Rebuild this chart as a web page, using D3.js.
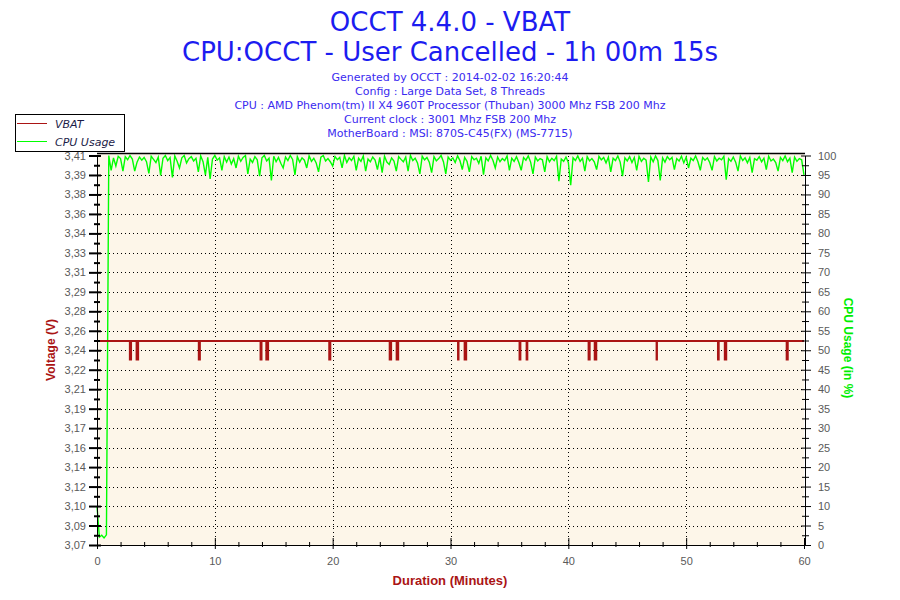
<!DOCTYPE html>
<html>
<head>
<meta charset="utf-8">
<script src="https://cdn.jsdelivr.net/npm/d3@7"></script>
<style>
  body { margin: 0; background: #ffffff; }
  svg { display: block; }
  .tick text { font-family: "Liberation Sans", Arial, sans-serif; font-size: 11px; fill: #5a5a5a; }
</style>
</head>
<body>
<svg id="chart" width="900" height="600"></svg>
<script>

// Title block
const titleLines = ["OCCT 4.4.0 - VBAT", "CPU:OCCT - User Cancelled - 1h 00m 15s"];
const infoLines = [
    "Generated by OCCT : 2014-02-02 16:20:44",
    "Config : Large Data Set, 8 Threads",
    "CPU : AMD Phenom(tm) II X4 960T Processor (Thuban) 3000 Mhz FSB 200 Mhz",
    "Current clock : 3001 Mhz FSB 200 Mhz",
    "MotherBoard : MSI: 870S-C45(FX) (MS-7715)"
];

// Axis labels
const voltLabels = ["3,07", "3,09", "3,10", "3,12", "3,14", "3,16", "3,17", "3,19", "3,21", "3,22",
    "3,24", "3,26", "3,28", "3,29", "3,31", "3,33", "3,34", "3,36", "3,38", "3,39", "3,41"];
const cpuTicks = [0, 5, 10, 15, 20, 25, 30, 35, 40, 45, 50, 55, 60, 65, 70, 75, 80, 85, 90, 95, 100];
const minuteTicks = [0, 10, 20, 30, 40, 50, 60];

// VBAT readings (step changes, minutes -> volts)
const vbatTimes = [0, 2.79, 2.89, 3.36, 3.49, 8.64, 8.73, 13.88, 13.96, 14.37, 14.52, 19.71, 19.80,
    24.84, 24.96, 25.43, 25.56, 30.64, 30.68, 31.20, 31.33, 35.86, 35.93, 36.46, 36.52,
    41.72, 41.81, 42.24, 42.37, 47.49, 47.52, 52.70, 52.76, 53.28, 53.40, 58.53, 58.62, 60.0];
const vbatVolts = [3.248, 3.232, 3.248, 3.232, 3.248, 3.232, 3.248, 3.232, 3.248, 3.232, 3.248, 3.232, 3.248,
    3.232, 3.248, 3.232, 3.248, 3.232, 3.248, 3.232, 3.248, 3.232, 3.248, 3.232, 3.248,
    3.232, 3.248, 3.232, 3.248, 3.232, 3.248, 3.232, 3.248, 3.232, 3.248, 3.232, 3.248, 3.248];

// CPU usage, one sample every 0.2 minutes
const cpuSampleStep = 0.2;
const cpuUsage = [
    10, 2, 2.5, 1.8, 2.6, 100, 96.2, 99.4, 97.3, 99.8,
    99.2, 96.0, 99.7, 98.9, 100, 99.1, 96.0, 98.3, 99.6, 98.8,
    99.5, 98.4, 95.4, 99.8, 99.0, 98.2, 99.6, 94.9, 99.3, 100,
    98.7, 99.5, 94.4, 99.9, 98.5, 96.8, 99.4, 100, 98.1, 99.2,
    99.7, 98.6, 99.3, 95.8, 99.9, 98.4, 95.0, 99.5, 94.0, 99.1,
    100, 98.8, 99.4, 96.2, 99.7, 98.3, 99.6, 97.8, 99.2, 96.8,
    99.8, 98.5, 99.5, 100, 95.3, 99.1, 98.2, 99.7, 98.9, 94.7,
    99.4, 100, 98.6, 99.3, 93.6, 99.8, 98.4, 99.5, 98.0, 96.8,
    99.6, 98.7, 100, 99.0, 95.0, 99.7, 98.3, 99.4, 98.8, 96.8,
    99.9, 98.5, 99.3, 98.1, 95.8, 99.6, 100, 98.6, 99.2, 98.4,
    97.3, 99.7, 98.9, 99.5, 96.8, 100, 98.2, 99.4, 98.7, 99.8,
    96.2, 99.3, 98.5, 99.9, 96.0, 99.1, 98.4, 99.6, 98.8, 96.4,
    99.5, 95.6, 99.8, 98.3, 97.7, 99.4, 98.6, 96.0, 99.7, 99.0,
    98.4, 99.6, 96.0, 100, 98.7, 99.3, 98.1, 95.3, 99.8, 98.9,
    99.5, 98.3, 95.6, 99.7, 98.6, 99.2, 100, 98.4, 95.3, 99.6,
    98.8, 99.4, 98.2, 99.9, 98.7, 96.4, 99.5, 98.5, 95.8, 99.7,
    98.9, 99.3, 98.0, 99.8, 95.1, 99.4, 98.6, 100, 98.8, 96.8,
    99.6, 98.4, 99.2, 98.7, 99.9, 96.2, 99.3, 98.5, 99.7, 98.2,
    96.2, 99.5, 98.8, 99.9, 98.3, 95.3, 99.6, 98.6, 99.2, 98.9,
    95.8, 99.7, 98.4, 99.3, 98.7, 99.8, 93.4, 99.1, 98.5, 99.6,
    98.2, 92.4, 99.4, 98.7, 99.9, 98.5, 99.3, 96.0, 99.7, 98.6,
    99.2, 98.4, 96.4, 99.8, 98.9, 99.5, 98.1, 99.6, 95.8, 99.3,
    98.7, 99.9, 98.3, 94.7, 99.4, 98.6, 99.7, 98.2, 99.5, 96.2,
    99.8, 98.5, 99.3, 98.8, 93.2, 99.6, 98.4, 99.9, 98.7, 93.6,
    99.4, 98.3, 99.7, 98.9, 99.5, 96.4, 99.2, 98.6, 99.8, 98.1,
    99.6, 96.8, 99.3, 98.7, 99.9, 98.4, 96.2, 99.5, 98.8, 99.4,
    98.2, 96.2, 99.7, 98.6, 99.3, 98.9, 99.8, 93.8, 99.2, 98.5,
    99.6, 98.3, 96.0, 99.9, 98.7, 99.4, 98.1, 99.5, 95.6, 99.2,
    98.8, 99.7, 98.4, 99.3, 96.4, 99.8, 98.6, 99.1, 98.2, 96.0,
    99.5, 98.7, 99.9, 98.4, 99.3, 95.6, 99.6, 98.5, 99.2, 98.9,
    95.0
];

// Dimensions
const plotLeft = 97, plotRight = 804, plotTop = 155.5, plotBottom = 545;
const svg = d3.select("#chart");

const x = d3.scaleLinear().domain([0, 60]).range([plotLeft, plotRight]);
const yVolt = d3.scaleLinear().domain([3.07, 3.41]).range([plotBottom, plotTop]);
const yCpu = d3.scaleLinear().domain([0, 100]).range([plotBottom, plotTop]);

// Voltage ticks are evenly spaced, labels are rounded
const voltStep = (3.41 - 3.07) / (voltLabels.length - 1);
const voltTicks = voltLabels.map((d, i) => 3.07 + i * voltStep);

// Titles
svg.selectAll("text.title")
    .data(titleLines)
    .enter()
    .append("text")
    .attr("class", "title")
    .attr("x", 450)
    .attr("y", (d, i) => 31 + i * 30)
    .attr("text-anchor", "middle")
    .style("font-family", "'DejaVu Sans', Verdana, sans-serif")
    .style("font-size", "26px")
    .style("fill", "#1c1cf0")
    .text(d => d);

svg.selectAll("text.info")
    .data(infoLines)
    .enter()
    .append("text")
    .attr("class", "info")
    .attr("x", 450)
    .attr("y", (d, i) => 81 + i * 14)
    .attr("text-anchor", "middle")
    .style("font-family", "'DejaVu Sans', Verdana, sans-serif")
    .style("font-size", "11px")
    .style("fill", "#3a2af0")
    .text(d => d);

// Plot background
svg.append("rect")
    .attr("x", plotLeft)
    .attr("y", 153.5)
    .attr("width", plotRight - plotLeft)
    .attr("height", plotBottom - 153.5)
    .attr("fill", "#fdf6e9");

// Dotted grid
const grid = svg.append("g")
    .attr("stroke", "#000")
    .attr("stroke-width", 1)
    .attr("stroke-dasharray", "1,3");
grid.selectAll("line.h")
    .data(voltTicks.slice(1, -1))
    .enter()
    .append("line")
    .attr("x1", plotLeft + 4)
    .attr("x2", plotRight)
    .attr("y1", d => Math.round(yVolt(d)) + 0.5)
    .attr("y2", d => Math.round(yVolt(d)) + 0.5);
grid.selectAll("line.v")
    .data(minuteTicks.slice(1, -1))
    .enter()
    .append("line")
    .attr("x1", d => Math.round(x(d)) + 0.5)
    .attr("x2", d => Math.round(x(d)) + 0.5)
    .attr("y1", 156)
    .attr("y2", plotBottom);

// CPU usage line
const cpuData = cpuUsage.map((v, i) => [i * cpuSampleStep, v]);
svg.append("path")
    .datum(cpuData)
    .attr("fill", "none")
    .attr("stroke", "#00ff00")
    .attr("stroke-width", 1.4)
    .attr("d", d3.line().x(d => x(d[0])).y(d => yCpu(d[1])));

// VBAT line
const vbatData = vbatTimes.map((t, i) => [t, vbatVolts[i]]);
svg.append("path")
    .datum(vbatData)
    .attr("fill", "none")
    .attr("stroke", "#aa1414")
    .attr("stroke-width", 2)
    .attr("d", d3.line().curve(d3.curveStepAfter).x(d => x(d[0])).y(d => yVolt(d[1])));

// Left axis
const leftAxis = svg.append("g")
    .attr("transform", `translate(${plotLeft},0)`)
    .call(d3.axisLeft(yVolt).tickValues(voltTicks).tickFormat((d, i) => voltLabels[i]).tickSizeOuter(0).tickSize(8).tickPadding(3));
leftAxis.selectAll(".tick line").attr("x1", 4).attr("stroke-width", 2);
svg.append("g")
    .attr("transform", `translate(${plotLeft},0)`)
    .call(d3.axisLeft(yVolt).tickValues(voltTicks.slice(1).map(d => d - voltStep / 2)).tickFormat("").tickSize(3).tickSizeOuter(0))
    .call(g => g.select(".domain").remove())
    .selectAll(".tick line").attr("x1", 3).attr("stroke-width", 2);

// Right axis
const rightAxis = svg.append("g")
    .attr("transform", `translate(${plotRight + 1},0)`)
    .call(d3.axisRight(yCpu).tickValues(cpuTicks).tickSize(6).tickPadding(7).tickSizeOuter(0));
rightAxis.selectAll(".tick line").attr("x1", -4);
svg.append("g")
    .attr("transform", `translate(${plotRight + 1},0)`)
    .call(d3.axisRight(yCpu).tickValues(cpuTicks.slice(1).map(d => d - 2.5)).tickFormat("").tickSize(4).tickSizeOuter(0))
    .call(g => g.select(".domain").remove())
    .selectAll(".tick line").attr("x1", -3);

// Bottom axis
const bottomAxis = svg.append("g")
    .attr("transform", `translate(0,${plotBottom})`)
    .call(d3.axisBottom(x).tickValues(minuteTicks).tickSize(4).tickPadding(8).tickSizeOuter(0));
bottomAxis.selectAll(".tick line").attr("y1", -7);
bottomAxis.select(".domain").attr("d", `M${plotLeft},0.5H${plotRight + 6}`);
svg.append("g")
    .attr("transform", `translate(0,${plotBottom})`)
    .call(d3.axisBottom(x).tickValues(d3.range(2, 60, 2).filter(d => d % 10 !== 0)).tickFormat("").tickSize(2).tickSizeOuter(0))
    .call(g => g.select(".domain").remove())
    .selectAll(".tick line").attr("y1", -3);

// Top border
svg.append("line")
    .attr("x1", plotLeft)
    .attr("x2", plotRight + 1)
    .attr("y1", 153.5)
    .attr("y2", 153.5)
    .attr("stroke", "#000")
    .attr("stroke-width", 1.5);

// Axis titles
svg.append("text")
    .attr("x", 450)
    .attr("y", 585)
    .attr("text-anchor", "middle")
    .style("font-family", "'Liberation Sans', Arial, sans-serif")
    .style("font-size", "13px")
    .style("font-weight", "bold")
    .style("fill", "#aa1414")
    .text("Duration (Minutes)");

svg.append("text")
    .attr("transform", "translate(55,350) rotate(-90)")
    .attr("text-anchor", "middle")
    .style("font-family", "'Liberation Sans', Arial, sans-serif")
    .style("font-size", "12px")
    .style("font-weight", "bold")
    .style("fill", "#aa1414")
    .text("Voltage (V)");

svg.append("text")
    .attr("transform", "translate(844,348) rotate(90)")
    .attr("text-anchor", "middle")
    .style("font-family", "'Liberation Sans', Arial, sans-serif")
    .style("font-size", "12px")
    .style("font-weight", "bold")
    .style("fill", "#00ee00")
    .text("CPU Usage (in %)");

// Legend
const legendItems = [["VBAT", "#aa1414"], ["CPU Usage", "#00ff00"]];
const legend = svg.append("g");
legend.append("rect")
    .attr("x", 15.5)
    .attr("y", 114.5)
    .attr("width", 109)
    .attr("height", 37)
    .attr("fill", "#fff")
    .attr("stroke", "#000");
const items = legend.selectAll("g.item")
    .data(legendItems)
    .enter()
    .append("g")
    .attr("transform", (d, i) => `translate(0,${123.5 + i * 18})`);
items.append("line")
    .attr("x1", 17)
    .attr("x2", 47)
    .attr("stroke", d => d[1])
    .attr("stroke-width", 1);
items.append("text")
    .attr("x", 55)
    .attr("y", 4)
    .style("font-family", "'DejaVu Sans', Verdana, sans-serif")
    .style("font-size", "11px")
    .style("font-style", "italic")
    .style("fill", "#1c1c48")
    .text(d => d[0]);

</script>
</body>
</html>
